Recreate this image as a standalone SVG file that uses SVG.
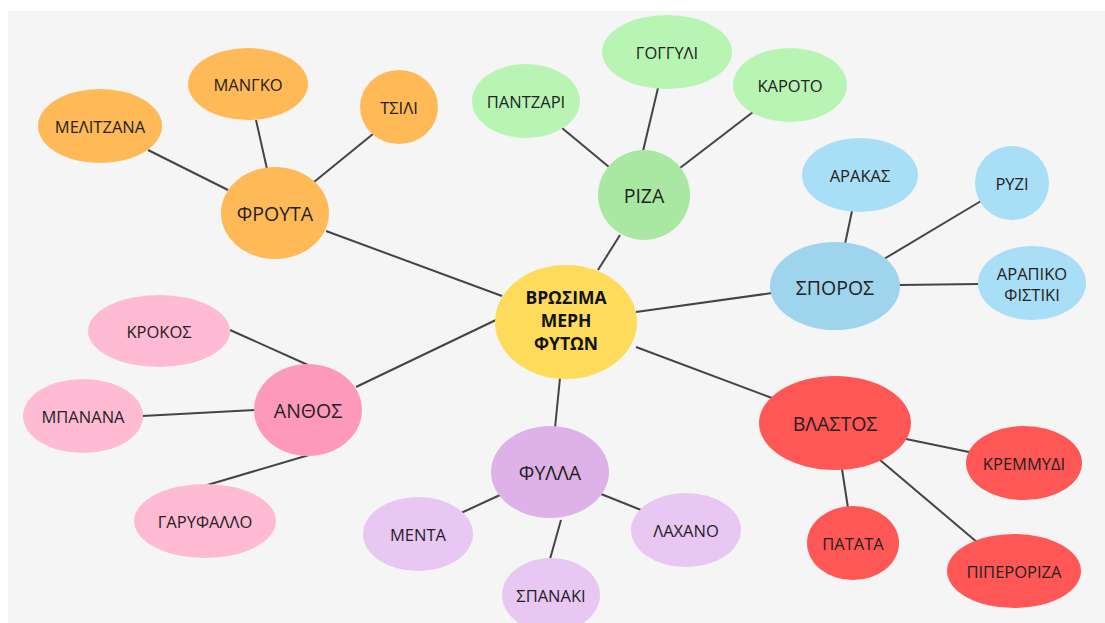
<svg xmlns="http://www.w3.org/2000/svg" width="1105" height="623" viewBox="0 0 1105 623">
<style>
text{font-family:"Open Sans","Noto Sans","Liberation Sans",sans-serif;fill:#222;text-anchor:middle;dominant-baseline:central}
.it{font-size:16.5px}
.cat{font-size:19.5px}
.ctr{font-size:17.5px;font-weight:bold;fill:#111}
.ln{stroke:#444;stroke-width:2;fill:none}
.or{fill:#FFB957}.g1{fill:#A9E8A3}.g2{fill:#B8F5B4}.b1{fill:#9ED4EC}.b2{fill:#A8DEF6}
.r{fill:#FF5656}.p1{fill:#FF99BB}.p2{fill:#FFBBD4}.v1{fill:#DEB1E8}.v2{fill:#E9C7F3}
</style>
<rect x="8" y="11" width="1097" height="612" fill="#F5F5F5"/>
<g id="connectors" class="ln">
<line x1="326" y1="231" x2="502" y2="296"/>
<line x1="620" y1="235" x2="598" y2="270"/>
<line x1="636" y1="312" x2="772" y2="293"/>
<line x1="636" y1="347" x2="772" y2="398"/>
<line x1="560" y1="378" x2="555" y2="428"/>
<line x1="356" y1="387" x2="498" y2="319"/>
<line x1="148" y1="150" x2="228" y2="190"/>
<line x1="256" y1="120" x2="267" y2="169"/>
<line x1="373" y1="134" x2="314" y2="182"/>
<line x1="562" y1="128" x2="609" y2="167"/>
<line x1="658" y1="88" x2="643" y2="151"/>
<line x1="753" y1="112" x2="680" y2="168"/>
<line x1="852" y1="211" x2="845" y2="244"/>
<line x1="981" y1="201" x2="884" y2="259"/>
<line x1="899" y1="285" x2="979" y2="284"/>
<line x1="906" y1="439" x2="969" y2="452"/>
<line x1="842" y1="469" x2="848" y2="508"/>
<line x1="880" y1="460" x2="978" y2="543"/>
<line x1="461" y1="513" x2="500" y2="495"/>
<line x1="601" y1="494" x2="641" y2="510"/>
<line x1="561" y1="520" x2="550" y2="559"/>
<line x1="230" y1="330" x2="308" y2="365"/>
<line x1="142" y1="416" x2="255" y2="410"/>
<line x1="204" y1="486" x2="309" y2="455"/>
</g>
<g id="center"><ellipse cx="566" cy="322" rx="71" ry="57" fill="#FFDB5C"/>
<text class="ctr" x="566" y="297">ΒΡΩΣΙΜΑ</text><text class="ctr" x="566" y="320">ΜΕΡΗ</text><text class="ctr" x="566" y="343">ΦΥΤΩΝ</text></g>
<g id="frouta"><ellipse class="or" cx="275" cy="213" rx="54" ry="46"/><text class="cat" x="275" y="213">ΦΡΟΥΤΑ</text></g>
<g id="melitzana"><ellipse class="or" cx="100" cy="126" rx="62" ry="37"/><text class="it" x="100" y="126">ΜΕΛΙΤΖΑΝΑ</text></g>
<g id="mango"><ellipse class="or" cx="248" cy="84" rx="60" ry="36"/><text class="it" x="248" y="84">ΜΑΝΓΚΟ</text></g>
<g id="tsili"><ellipse class="or" cx="399" cy="107" rx="39" ry="37"/><text class="it" x="399" y="107">ΤΣΙΛΙ</text></g>
<g id="riza"><ellipse class="g1" cx="644" cy="195" rx="46" ry="45"/><text class="cat" x="644" y="195">ΡΙΖΑ</text></g>
<g id="pantzari"><ellipse class="g2" cx="526" cy="101" rx="54" ry="37"/><text class="it" x="526" y="101">ΠΑΝΤΖΑΡΙ</text></g>
<g id="goggyli"><ellipse class="g2" cx="667" cy="52" rx="65" ry="37"/><text class="it" x="667" y="52">ΓΟΓΓΥΛΙ</text></g>
<g id="karoto"><ellipse class="g2" cx="790" cy="85" rx="57" ry="37"/><text class="it" x="790" y="85">ΚΑΡΟΤΟ</text></g>
<g id="sporos"><ellipse class="b1" cx="835" cy="286" rx="65" ry="44"/><text class="cat" x="835" y="287">ΣΠΟΡΟΣ</text></g>
<g id="arakas"><ellipse class="b2" cx="860" cy="175" rx="58" ry="37"/><text class="it" x="860" y="175">ΑΡΑΚΑΣ</text></g>
<g id="ryzi"><ellipse class="b2" cx="1012" cy="183" rx="37" ry="37"/><text class="it" x="1012" y="183">ΡΥΖΙ</text></g>
<g id="arapiko"><ellipse class="b2" cx="1032" cy="283" rx="54" ry="37"/><text class="it" x="1032" y="273">ΑΡΑΠΙΚΟ</text><text class="it" x="1032" y="294">ΦΙΣΤΙΚΙ</text></g>
<g id="vlastos"><ellipse class="r" cx="835" cy="423" rx="76" ry="47"/><text class="cat" x="835" y="423">ΒΛΑΣΤΟΣ</text></g>
<g id="kremmydi"><ellipse class="r" cx="1024" cy="463" rx="58" ry="37"/><text class="it" x="1024" y="463">ΚΡΕΜΜΥΔΙ</text></g>
<g id="patata"><ellipse class="r" cx="853" cy="543" rx="46" ry="37"/><text class="it" x="853" y="543">ΠΑΤΑΤΑ</text></g>
<g id="piperoriza"><ellipse class="r" cx="1014" cy="571" rx="67" ry="37"/><text class="it" x="1014" y="571">ΠΙΠΕΡΟΡΙΖΑ</text></g>
<g id="fylla"><ellipse class="v1" cx="550" cy="472" rx="59" ry="46"/><text class="cat" x="550" y="472">ΦΥΛΛΑ</text></g>
<g id="menta"><ellipse class="v2" cx="418" cy="534" rx="55" ry="37"/><text class="it" x="418" y="534">ΜΕΝΤΑ</text></g>
<g id="lachano"><ellipse class="v2" cx="686" cy="530" rx="55" ry="37"/><text class="it" x="686" y="530">ΛΑΧΑΝΟ</text></g>
<g id="spanaki"><ellipse class="v2" cx="551" cy="595" rx="49" ry="37"/><text class="it" x="551" y="595">ΣΠΑΝΑΚΙ</text></g>
<g id="anthos"><ellipse class="p1" cx="308" cy="410" rx="54" ry="46"/><text class="cat" x="308" y="410">ΑΝΘΟΣ</text></g>
<g id="krokos"><ellipse class="p2" cx="159" cy="331" rx="71" ry="36"/><text class="it" x="159" y="331">ΚΡΟΚΟΣ</text></g>
<g id="banana"><ellipse class="p2" cx="83" cy="416" rx="60" ry="37"/><text class="it" x="83" y="416">ΜΠΑΝΑΝΑ</text></g>
<g id="garyfallo"><ellipse class="p2" cx="205" cy="521" rx="71" ry="37"/><text class="it" x="205" y="521">ΓΑΡΥΦΑΛΛΟ</text></g>
</svg>
